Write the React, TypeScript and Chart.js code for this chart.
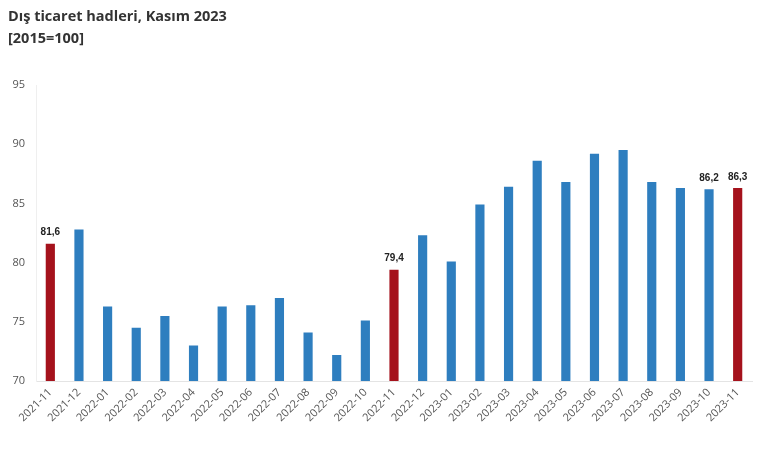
import React, { useEffect, useRef } from "react";
import { Chart, registerables } from "chart.js";

Chart.register(...registerables);

const categories = [
  "2021-11", "2021-12", "2022-01", "2022-02", "2022-03", "2022-04", "2022-05",
  "2022-06", "2022-07", "2022-08", "2022-09", "2022-10", "2022-11", "2022-12",
  "2023-01", "2023-02", "2023-03", "2023-04", "2023-05", "2023-06", "2023-07",
  "2023-08", "2023-09", "2023-10", "2023-11",
];
const values = [
  81.6, 82.8, 76.3, 74.5, 75.5, 73.0, 76.3, 76.4, 77.0, 74.1, 72.2, 75.1, 79.4,
  82.3, 80.1, 84.9, 86.4, 88.6, 86.8, 89.2, 89.5, 86.8, 86.3, 86.2, 86.3,
];
const highlighted = ["2021-11", "2022-11", "2023-11"];
const labelled = ["2021-11", "2022-11", "2023-10", "2023-11"];
const yTicks = [70, 75, 80, 85, 90, 95];
const titleText = "Dış ticaret hadleri, Kasım 2023";
const subtitleText = "[2015=100]";

const BLUE = "#2e7ebf";
const RED = "#a5121c";

const valueLabels = {
  id: "valueLabels",
  afterDatasetsDraw(chart: any) {
    const ctx = chart.ctx;
    const meta = chart.getDatasetMeta(0);
    ctx.save();
    ctx.font = "bold 10px 'Liberation Sans', Arial, sans-serif";
    ctx.fillStyle = "#222";
    ctx.textAlign = "center";
    ctx.textBaseline = "bottom";
    meta.data.forEach((bar: any, i: number) => {
      if (!labelled.includes(categories[i])) return;
      const txt = values[i].toFixed(1).replace(".", ",");
      ctx.fillText(txt, bar.x, bar.y - 6);
    });
    ctx.restore();
  },
};

export default function App() {
  const ref = useRef<HTMLCanvasElement>(null);

  useEffect(() => {
    document.body.style.margin = "0";
    const chart = new Chart(ref.current!, {
      type: "bar",
      data: {
        labels: categories,
        datasets: [
          {
            data: values,
            backgroundColor: categories.map((c) => (highlighted.includes(c) ? RED : BLUE)),
            barPercentage: 0.32,
            categoryPercentage: 1,
          },
        ],
      },
      options: {
        animation: false,
        responsive: false,
        layout: { padding: { top: 85, right: 8, left: 0, bottom: 0 } },
        plugins: {
          legend: { display: false },
          tooltip: { enabled: false },
        },
        scales: {
          x: {
            grid: { display: false, drawTicks: false },
            border: { display: true, color: "#e4e4e4" },
            ticks: {
              color: "#555",
              font: { size: 11, family: "'Open Sans', sans-serif" },
              maxRotation: 45,
              minRotation: 45,
              padding: 5,
              autoSkip: false,
            },
            afterFit(scale: any) {
              scale.height = 69;
            },
          },
          y: {
            min: 70,
            max: 95,
            afterBuildTicks(scale: any) {
              scale.ticks = yTicks.map((v) => ({ value: v }));
            },
            grid: { display: false, drawTicks: false },
            border: { display: true, color: "#efefef" },
            ticks: {
              color: "#555",
              font: { size: 11, family: "'Open Sans', sans-serif" },
              padding: 11,
            },
            afterFit(scale: any) {
              scale.width = 36;
            },
          },
        },
      },
      plugins: [valueLabels],
    });
    return () => chart.destroy();
  }, []);

  return (
    <div style={{ position: "relative", width: 760, height: 450, background: "#fff" }}>
      <canvas ref={ref} width={760} height={450} style={{ position: "absolute", left: 0, top: 0 }} />
      <div
        style={{
          position: "absolute",
          left: 8,
          top: 5,
          fontFamily: "'Open Sans', sans-serif",
          fontWeight: 700,
          fontSize: 14.5,
          color: "#333",
          lineHeight: "22px",
        }}
      >
        <div>{titleText}</div>
        <div>{subtitleText}</div>
      </div>
    </div>
  );
}
